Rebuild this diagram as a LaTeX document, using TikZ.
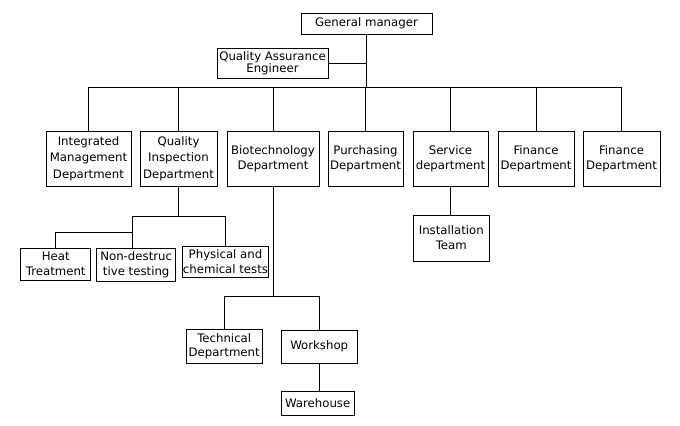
\documentclass[tikz,border=0pt]{standalone}
\usepackage{fontspec}
\setmainfont{DejaVu Sans}
\begin{document}
\begin{tikzpicture}[x=0.75pt,y=-0.75pt,
  box/.style={draw,line width=0.75pt,align=center,inner sep=0pt,
    font=\fontsize{8.8}{11.3}\selectfont},
  conn/.style={line width=0.75pt}]
\useasboundingbox (0,0) rectangle (680,425);
% top
\node[box,minimum width=98.25pt,minimum height=15.75pt] (gm) at (366.5,23.5) {General manager};
\node[box,minimum width=83.25pt,minimum height=22.5pt,font=\fontsize{8.8}{9}\selectfont] (qa) at (272.5,63) {Quality Assurance\\Engineer};
% level 1
\node[box,minimum width=63.75pt,minimum height=41.25pt,font=\fontsize{8.8}{12.2}\selectfont] (int) at (88.5,158.5) {Integrated\\Management\\Department};
\node[box,minimum width=57.75pt,minimum height=41.25pt,font=\fontsize{8.8}{12.2}\selectfont] (qi) at (178.5,158.5) {Quality\\Inspection\\Department};
\node[box,minimum width=69pt,minimum height=41.25pt] (bio) at (273,158.5) {Biotechnology\\Department};
\node[box,minimum width=56.25pt,minimum height=41.25pt] (pur) at (365.5,158.5) {Purchasing\\Department};
\node[box,minimum width=56.25pt,minimum height=41.25pt] (ser) at (450.5,158.5) {Service\\department};
\node[box,minimum width=57pt,minimum height=41.25pt] (fina) at (536,158.5) {Finance\\Department};
\node[box,minimum width=57.75pt,minimum height=41.25pt] (finb) at (621.5,158.5) {Finance\\Department};
% level 2
\node[box,minimum width=52.5pt,minimum height=24pt] (heat) at (55.7,264) {Heat\\Treatment};
\node[box,minimum width=59.25pt,minimum height=24.75pt] (nd) at (136.2,264.5) {Non-destruc\\tive testing};
\node[box,minimum width=64.8pt,minimum height=23pt] (phy) at (225.5,262) {Physical and\\chemical tests};
\node[box,minimum width=57pt,minimum height=34.5pt] (inst) at (451.3,238) {Installation\\Team};
\node[box,minimum width=57.2pt,minimum height=25.5pt,font=\fontsize{8.8}{10.5}\selectfont] (tech) at (224.2,346) {Technical\\Department};
\node[box,minimum width=57.2pt,minimum height=25pt] (work) at (319.2,346.7) {Workshop};
\node[box,minimum width=55pt,minimum height=18pt] (ware) at (317.7,403) {Warehouse};
% coordinates
\coordinate (bus) at (0,87);
\coordinate (qbus) at (0,216);
\coordinate (qj) at (132.7,216);
\coordinate (hj) at (132.7,232);
\coordinate (bbus) at (0,296);
% connectors
\draw[conn] (gm.south) -- (gm.south |- bus);
\draw[conn] (qa.east) -- (qa.east -| gm.south);
\draw[conn] (int.north |- bus) -- (finb.north |- bus);
\foreach \n in {int,qi,bio,pur,ser,fina,finb}
  \draw[conn] (\n.north) -- (\n.north |- bus);
\draw[conn] (qi.south) -- (qi.south |- qbus);
\draw[conn] (qj) -- (phy.north |- qbus);
\draw[conn] (qj) -- (qj |- nd.north);
\draw[conn] (phy.north) -- (phy.north |- qbus);
\draw[conn] (heat.north) |- (hj);
\draw[conn] (ser.south) -- (ser.south |- inst.north);
\draw[conn] (bio.south) -- (bio.south |- bbus);
\draw[conn] (tech.north |- bbus) -- (work.north |- bbus);
\draw[conn] (tech.north) -- (tech.north |- bbus);
\draw[conn] (work.north) -- (work.north |- bbus);
\draw[conn] (work.south) -- (work.south |- ware.north);
\end{tikzpicture}
\end{document}
